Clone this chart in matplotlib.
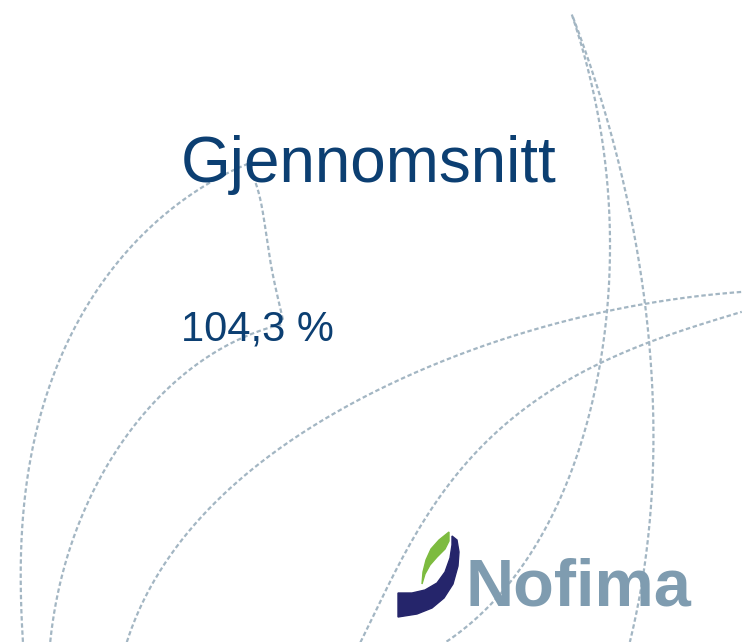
"""
    Nofima slide: Gjennomsnitt
"""
import numpy as np
import matplotlib.pyplot as plt
from matplotlib.patches import Polygon

TITLE = "Gjennomsnitt"
VALUE_LABEL = "104,3 %"
LOGO_TEXT = "Nofima"

TEXT_COLOR = "#0c3f72"
LINE_COLOR = "#a3b6c3"
LOGO_GREY = "#7f9cb0"
LOGO_NAVY = "#25256b"
LOGO_GREEN = "#7dbb3f"

# decorative dashed arcs, pixel positions on the slide
ARCS = [
    [(23, 642), (21, 567), (23, 500), (33, 450), (47, 400), (83, 307),
     (133, 247), (183, 200), (240, 167), (250, 163)],
    [(250, 170), (257, 187), (267, 240), (280, 307), (283, 320)],
    [(50, 642), (57, 600), (77, 527), (110, 460), (160, 400), (200, 357),
     (260, 335), (283, 322)],
    [(127, 642), (167, 560), (217, 500), (283, 447), (357, 400), (400, 380),
     (500, 340), (600, 313), (667, 300), (742, 292)],
    [(360, 642), (400, 567), (443, 487), (500, 430), (567, 383), (633, 347),
     (742, 312)],
    [(572, 15), (590, 77), (603, 150), (610, 233), (608, 317), (600, 363),
     (587, 420), (560, 497), (527, 557), (487, 613), (443, 642)],
    [(573, 17), (600, 97), (620, 167), (637, 250), (647, 317), (652, 400),
     (653, 447), (652, 513), (643, 570), (630, 642)],
]

NAVY_SHAPE = [(398, 617), (398, 593), (412, 593), (425, 590), (437, 583),
              (445, 572), (450, 558), (452, 545), (452, 536), (457, 540),
              (459, 552), (458, 566), (453, 584), (444, 598), (432, 608),
              (417, 614)]
GREEN_SHAPE = [(422, 584), (423, 572), (426, 560), (431, 549), (439, 540),
               (449, 532), (449, 541), (445, 549), (437, 557), (430, 565),
               (425, 574)]


def smooth_arc(points, n=300):
    pts = np.array(points, dtype=float)
    d = np.r_[0, np.cumsum(np.hypot(*np.diff(pts, axis=0).T))]
    t = d / d[-1]
    deg = min(4, len(pts) - 1)
    tt = np.linspace(0, 1, n)
    x = np.polyval(np.polyfit(t, pts[:, 0], deg), tt)
    y = np.polyval(np.polyfit(t, pts[:, 1], deg), tt)
    return x, y


fig = plt.figure(figsize=(7.42, 6.42), dpi=100)
ax = fig.add_axes([0, 0, 1, 1])
ax.set_xlim(0, 742)
ax.set_ylim(642, 0)
ax.axis("off")

for arc in ARCS:
    x, y = smooth_arc(arc)
    ax.plot(x, y, color=LINE_COLOR, lw=1.6,
            linestyle=(0, (2.0, 1.2)), zorder=1)

ax.text(181, 182, TITLE, color=TEXT_COLOR, fontsize=46,
        family="Liberation Sans", va="baseline", ha="left", zorder=3)
ax.text(181, 340, VALUE_LABEL, color=TEXT_COLOR, fontsize=30,
        family="Liberation Sans", va="baseline", ha="left", zorder=3)

# logo
ax.add_patch(Polygon(NAVY_SHAPE, closed=True, color=LOGO_NAVY, zorder=3))
ax.add_patch(Polygon(GREEN_SHAPE, closed=True, color=LOGO_GREEN, zorder=3))
ax.text(465, 605, LOGO_TEXT, color=LOGO_GREY, fontsize=48, weight="bold",
        family="Liberation Sans", va="baseline", ha="left", zorder=3)

fig.savefig("out.png", dpi=100)
